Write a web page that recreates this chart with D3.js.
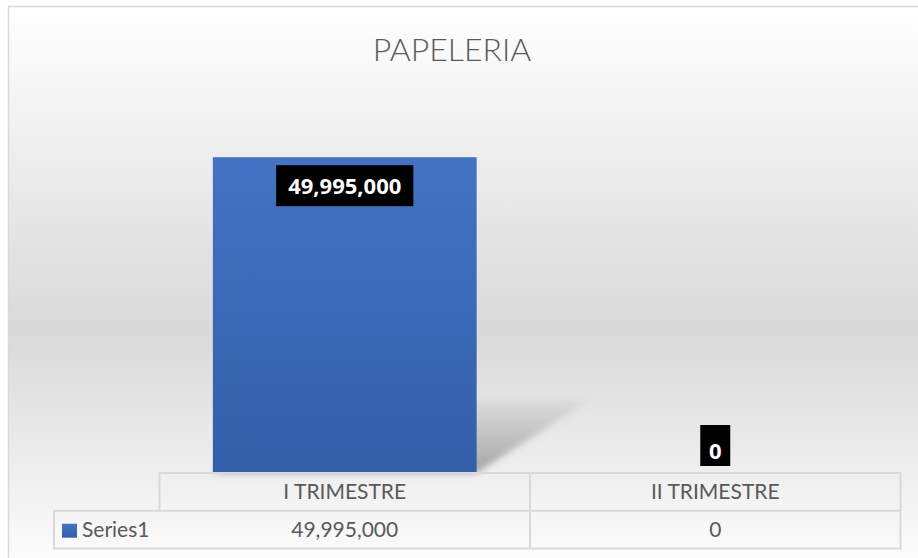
<!DOCTYPE html>
<html>
<head>
<meta charset="utf-8">
<script src="https://cdn.jsdelivr.net/npm/d3@7"></script>
<style>
  body { margin: 0; background: #fff; }
</style>
</head>
<body>
<div id="wrapper"></div>
<script>
const categories = ["I TRIMESTRE", "II TRIMESTRE"]
const seriesName = "Series1"
const values = [49995000, 0]
const title = "PAPELERIA"

const fmt = d3.format(",")

const dimensions = {
    width: 918,
    height: 558,
    margin: { top: 94, right: 17.5, bottom: 85, left: 159.5 },
}
dimensions.base = dimensions.height - dimensions.margin.bottom

const svg = d3.select("#wrapper")
    .append("svg")
    .attr("width", dimensions.width)
    .attr("height", dimensions.height)
    .style("display", "block")

const defs = svg.append("defs")

const bg = defs.append("linearGradient")
    .attr("id", "bg").attr("x1", 0).attr("y1", 0).attr("x2", 0).attr("y2", 1)
bg.append("stop").attr("offset", "0%").attr("stop-color", "#ffffff")
bg.append("stop").attr("offset", "58%").attr("stop-color", "#d9d9d9")
bg.append("stop").attr("offset", "100%").attr("stop-color", "#fdfdfd")

const barGrad = defs.append("linearGradient")
    .attr("id", "barGrad").attr("x1", 0).attr("y1", 0).attr("x2", 0).attr("y2", 1)
barGrad.append("stop").attr("offset", "0%").attr("stop-color", "#4473c5")
barGrad.append("stop").attr("offset", "100%").attr("stop-color", "#335ea8")

const shadowGrad = defs.append("linearGradient")
    .attr("id", "shadowGrad").attr("x1", 0).attr("y1", 1).attr("x2", 0).attr("y2", 0)
shadowGrad.append("stop").attr("offset", "0%").attr("stop-color", "#8c8c8c").attr("stop-opacity", 0.75)
shadowGrad.append("stop").attr("offset", "100%").attr("stop-color", "#8c8c8c").attr("stop-opacity", 0.1)

defs.append("filter").attr("id", "blur")
    .attr("x", "-20%").attr("y", "-20%").attr("width", "140%").attr("height", "140%")
    .append("feGaussianBlur").attr("stdDeviation", 3)

// chart area
svg.append("rect")
    .attr("x", 8.5).attr("y", 6.5)
    .attr("width", 920).attr("height", 560)
    .attr("fill", "url(#bg)")
    .attr("stroke", "#d9d9d9")
    .attr("stroke-width", 1.5)

svg.append("text")
    .attr("x", 452)
    .attr("y", 61)
    .attr("text-anchor", "middle")
    .attr("font-family", "Lato, 'Open Sans', sans-serif")
    .attr("font-weight", 300)
    .attr("font-size", 32)
    .attr("fill", "#595959")
    .text(title)

const xScale = d3.scaleBand()
    .domain(categories)
    .range([dimensions.margin.left, dimensions.width - dimensions.margin.right])

const yScale = d3.scaleLinear()
    .domain([0, 60000000])
    .range([dimensions.base, dimensions.margin.top])

const barW = xScale.bandwidth() * 0.712
const barX = c => xScale(c) + (xScale.bandwidth() - barW) / 2

const data = categories.map((c, i) => ({ cat: c, value: values[i] }))

// perspective shadow
svg.append("g")
    .selectAll("path")
    .data(data.filter(d => d.value > 0))
    .join("path")
    .attr("d", d => {
        const x0 = barX(d.cat), x1 = x0 + barW
        const h = (dimensions.base - yScale(d.value)) * 0.23
        const skew = h * 1.55
        return `M${x0},${dimensions.base}L${x1},${dimensions.base}L${x1 + skew},${dimensions.base - h}L${x0 + skew},${dimensions.base - h}Z`
    })
    .attr("fill", "url(#shadowGrad)")
    .attr("filter", "url(#blur)")

svg.append("g")
    .selectAll("rect")
    .data(data)
    .join("rect")
    .attr("x", d => barX(d.cat))
    .attr("y", d => yScale(d.value))
    .attr("width", barW)
    .attr("height", d => dimensions.base - yScale(d.value))
    .attr("fill", "url(#barGrad)")

// data labels
const labels = svg.append("g")
    .selectAll("g")
    .data(data)
    .join("g")

labels.append("text")
    .attr("x", d => xScale(d.cat) + xScale.bandwidth() / 2)
    .attr("y", d => d.value > 0 ? yScale(d.value) + 36.5 : dimensions.base - 14.5)
    .attr("text-anchor", "middle")
    .attr("font-family", "'Open Sans', sans-serif")
    .attr("font-weight", 700)
    .attr("font-size", 22)
    .attr("fill", "#ffffff")
    .text(d => fmt(d.value))

labels.each(function () {
    const g = d3.select(this)
    const t = g.select("text")
    const b = t.node().getBBox()
    const padX = b.width > 40 ? 12 : 8
    const cx = b.x + b.width / 2
    const bw = Math.max(b.width + padX * 2, 30)
    g.insert("rect", "text")
        .attr("x", cx - bw / 2)
        .attr("y", t.datum().value > 0 ? yScale(t.datum().value) + 8 : dimensions.base - 48)
        .attr("width", bw)
        .attr("height", 41)
        .attr("fill", "#000000")
})

// data table
const rowH = 37.7
const tableTop = dimensions.base
const legendLeft = 54
const right = dimensions.width - dimensions.margin.right
const lineColor = "#d9d9d9"
const table = svg.append("g")
    .attr("stroke", lineColor)
    .attr("stroke-width", 2)
    .attr("fill", "none")

table.append("path")
    .attr("d", `M${xScale.range()[0]},${tableTop + rowH}V${tableTop}H${right}V${tableTop + 2 * rowH}H${legendLeft}V${tableTop + rowH}H${right}`)
categories.slice(1).forEach(c => {
    table.append("line")
        .attr("x1", xScale(c)).attr("x2", xScale(c))
        .attr("y1", tableTop).attr("y2", tableTop + 2 * rowH)
})

const cellFont = "Lato, 'Open Sans', sans-serif"
svg.append("g")
    .selectAll("text")
    .data(categories)
    .join("text")
    .attr("x", d => xScale(d) + xScale.bandwidth() / 2)
    .attr("y", tableTop + rowH / 2 + 7)
    .attr("text-anchor", "middle")
    .attr("font-family", cellFont)
    .attr("font-size", 21)
    .attr("fill", "#595959")
    .text(d => d)

svg.append("g")
    .selectAll("text")
    .data(data)
    .join("text")
    .attr("x", d => xScale(d.cat) + xScale.bandwidth() / 2)
    .attr("y", tableTop + rowH * 1.5 + 7)
    .attr("text-anchor", "middle")
    .attr("font-family", cellFont)
    .attr("font-size", 21)
    .attr("fill", "#595959")
    .text(d => fmt(d.value))

svg.append("rect")
    .attr("x", 62).attr("y", tableTop + rowH + 13)
    .attr("width", 15).attr("height", 14)
    .attr("fill", "url(#barGrad)")

svg.append("text")
    .attr("x", 82)
    .attr("y", tableTop + rowH * 1.5 + 7)
    .attr("font-family", cellFont)
    .attr("font-size", 21)
    .attr("fill", "#595959")
    .text(seriesName)
</script>
</body>
</html>
